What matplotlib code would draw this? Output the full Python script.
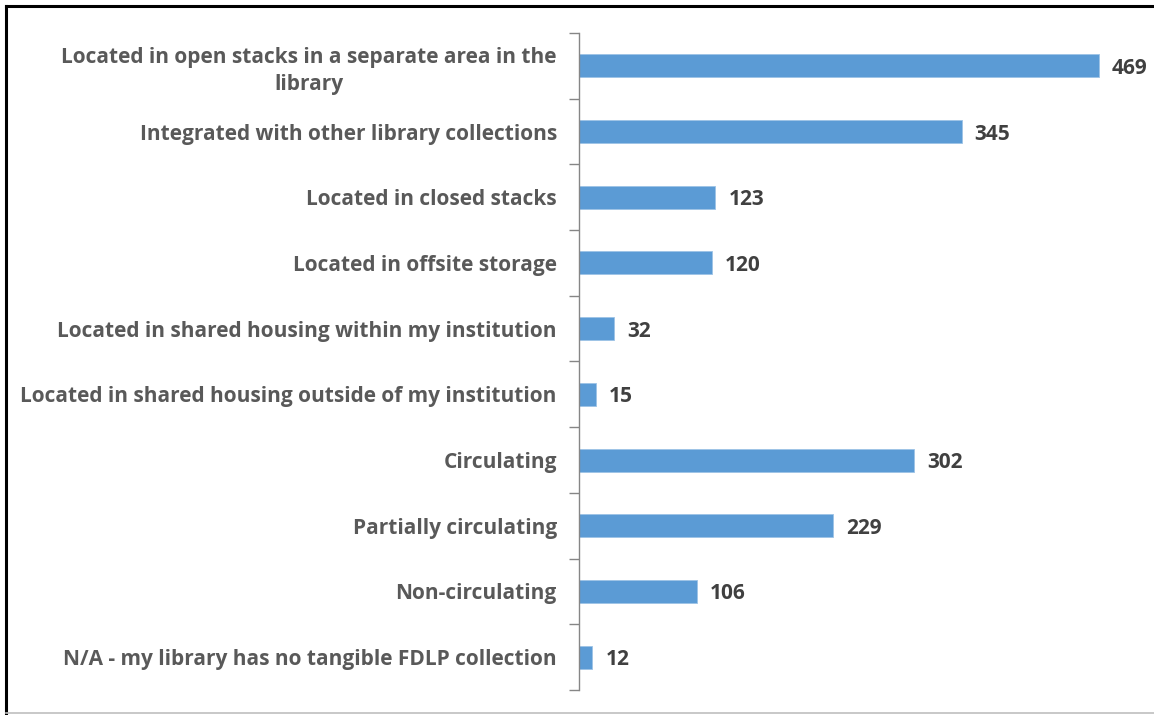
import matplotlib
matplotlib.use("Agg")
import matplotlib.pyplot as plt
from matplotlib.lines import Line2D

categories = [
    "Located in open stacks in a separate area in the\nlibrary",
    "Integrated with other library collections",
    "Located in closed stacks",
    "Located in offsite storage",
    "Located in shared housing within my institution",
    "Located in shared housing outside of my institution",
    "Circulating",
    "Partially circulating",
    "Non-circulating",
    "N/A - my library has no tangible FDLP collection",
]
values = [469, 345, 123, 120, 32, 15, 302, 229, 106, 12]

W, H = 1154, 715
fig = plt.figure(figsize=(W / 100, H / 100), dpi=100)
ax_left = 579 / W
ax_bottom = (H - 690) / H
ax_top = (H - 33) / H
ax_right = 1150 / W
ax = fig.add_axes([ax_left, ax_bottom, ax_right - ax_left, ax_top - ax_bottom])

font = "Open Sans"
label_color = "#595959"
value_color = "#404040"
fs = 15

n = len(categories)
ypos = list(range(n))
ax.barh(ypos, values, height=0.35, color="#5B9BD5", edgecolor="#9DC3E6", linewidth=0.6)
ax.set_ylim(n - 0.5, -0.5)
xmax = (1150 - 579) / ((1099 - 579) / 469)
ax.set_xlim(0, xmax)

for y, v in zip(ypos, values):
    ax.annotate(str(v), xy=(v, y), xytext=(13, 0), textcoords="offset pixels",
                va="center_baseline", ha="left", fontsize=fs, fontweight="bold",
                color=value_color, family=font)

ax.set_yticks([i - 0.5 for i in range(n + 1)])
ax.set_yticklabels([])
ax.tick_params(axis="y", which="major", length=7, color="#868686", width=1)
ax.set_yticks(ypos, minor=True)
ax.set_yticklabels(categories, minor=True, fontsize=fs, fontweight="bold", color=label_color,
                   family=font, multialignment="center", linespacing=1.35)
ax.tick_params(axis="y", which="minor", length=0, pad=16)
ax.set_xticks([])
for s in ["top", "right", "bottom"]:
    ax.spines[s].set_visible(False)
ax.spines["left"].set_color("#868686")
ax.spines["left"].set_linewidth(1)

# figure frame
fig.add_artist(Line2D([6 / W, 1], [1 - 6 / H, 1 - 6 / H], color="black", lw=2.2, transform=fig.transFigure))
fig.add_artist(Line2D([6 / W, 6 / W], [1 - 6 / H, 2 / H], color="black", lw=2.2, transform=fig.transFigure))
fig.add_artist(Line2D([6 / W, 1], [2 / H, 2 / H], color="#BFBFBF", lw=1.2, transform=fig.transFigure))

fig.savefig("out.png", dpi=100)
